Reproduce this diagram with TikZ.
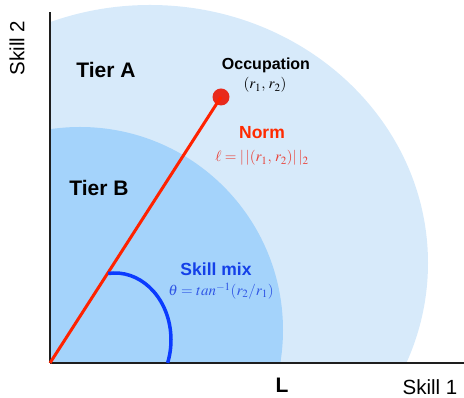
\documentclass[tikz,border=0pt]{standalone}
\usepackage{mathptmx}
\usepackage[no-math]{fontspec}
\setmainfont{Liberation Sans}
\definecolor{outerblue}{HTML}{D7EAFA}
\definecolor{innerblue}{HTML}{A4D3FB}
\definecolor{redline}{HTML}{FF2200}
\definecolor{reddot}{HTML}{E82A1C}
\definecolor{normred}{HTML}{FF2A00}
\definecolor{formred}{HTML}{E8433A}
\definecolor{arcblue}{HTML}{0B3BFF}
\definecolor{mixblue}{HTML}{1440E8}
\definecolor{formblue}{HTML}{2F55E5}
\definecolor{axisgray}{HTML}{1E1E1E}
\tikzset{
  axislabel/.style={font=\fontsize{20.5}{24}\selectfont, inner sep=0pt},
  tierlabel/.style={font=\fontsize{21}{24}\selectfont\bfseries, inner sep=0pt},
  headlabel/.style={font=\fontsize{17.5}{20}\selectfont\bfseries, inner sep=0pt},
  formula/.style={font=\fontsize{15}{18}\selectfont, inner sep=0pt},
  axisline/.style={draw=axisgray, line width=2pt}
}
\begin{document}
\begin{tikzpicture}[x=1pt,y=1pt]
\useasboundingbox (0,0) rectangle (464,398);
% regions
\begin{scope}
  \clip (50,35) rectangle (464,398);
  \fill[outerblue] (150,135) ellipse [x radius=278pt, y radius=258pt];
  \fill[innerblue] (80,68) circle [radius=203pt];
\end{scope}
% axes
\coordinate (O) at (50,35);
\coordinate (ytop) at (50,386);
\coordinate (xend) at (464,35);
\draw[axisline] (O) -- (ytop);
\draw[axisline] (O) -- (xend);
% occupation vector
\node[circle, fill=reddot, minimum size=17pt, inner sep=0pt] (occ) at (221,301) {};
\draw[redline, line width=3pt] (O) -- (occ.center);
% skill mix arc
\draw[arcblue, line width=3.5pt] (115,58) ++(97:56pt and 67pt)
  arc[start angle=97, end angle=-20, x radius=56pt, y radius=67pt];
% labels
\node[axislabel, rotate=90] (s2) at (17,350) {Skill 2};
\node[axislabel] (s1) at (430,11) {Skill 1};
\node[tierlabel] (L) at (282,13) {L};
\node[tierlabel] (ta) at (106,328) {Tier A};
\node[tierlabel] (tb) at (99,210) {Tier B};
\node[font=\fontsize{16}{19}\selectfont\bfseries, inner sep=0pt] (occlab) at (266,333) {Occupation};
\node[formula] (occr) at (265,313) {$(r_1,\, r_2)$};
\node[headlabel, text=normred] (norm) at (262,265) {Norm};
\node[formula, text=formred] (normf) at (262,240) {$\ell = |\,|(r_1,\, r_2)|\,|_2$};
\node[headlabel, text=mixblue] (mix) at (216,129) {Skill mix};
\node[formula, text=formblue] (mixf) at (221,107) {$\theta = tan^{-1}(r_2/r_1)$};
\end{tikzpicture}
\end{document}
